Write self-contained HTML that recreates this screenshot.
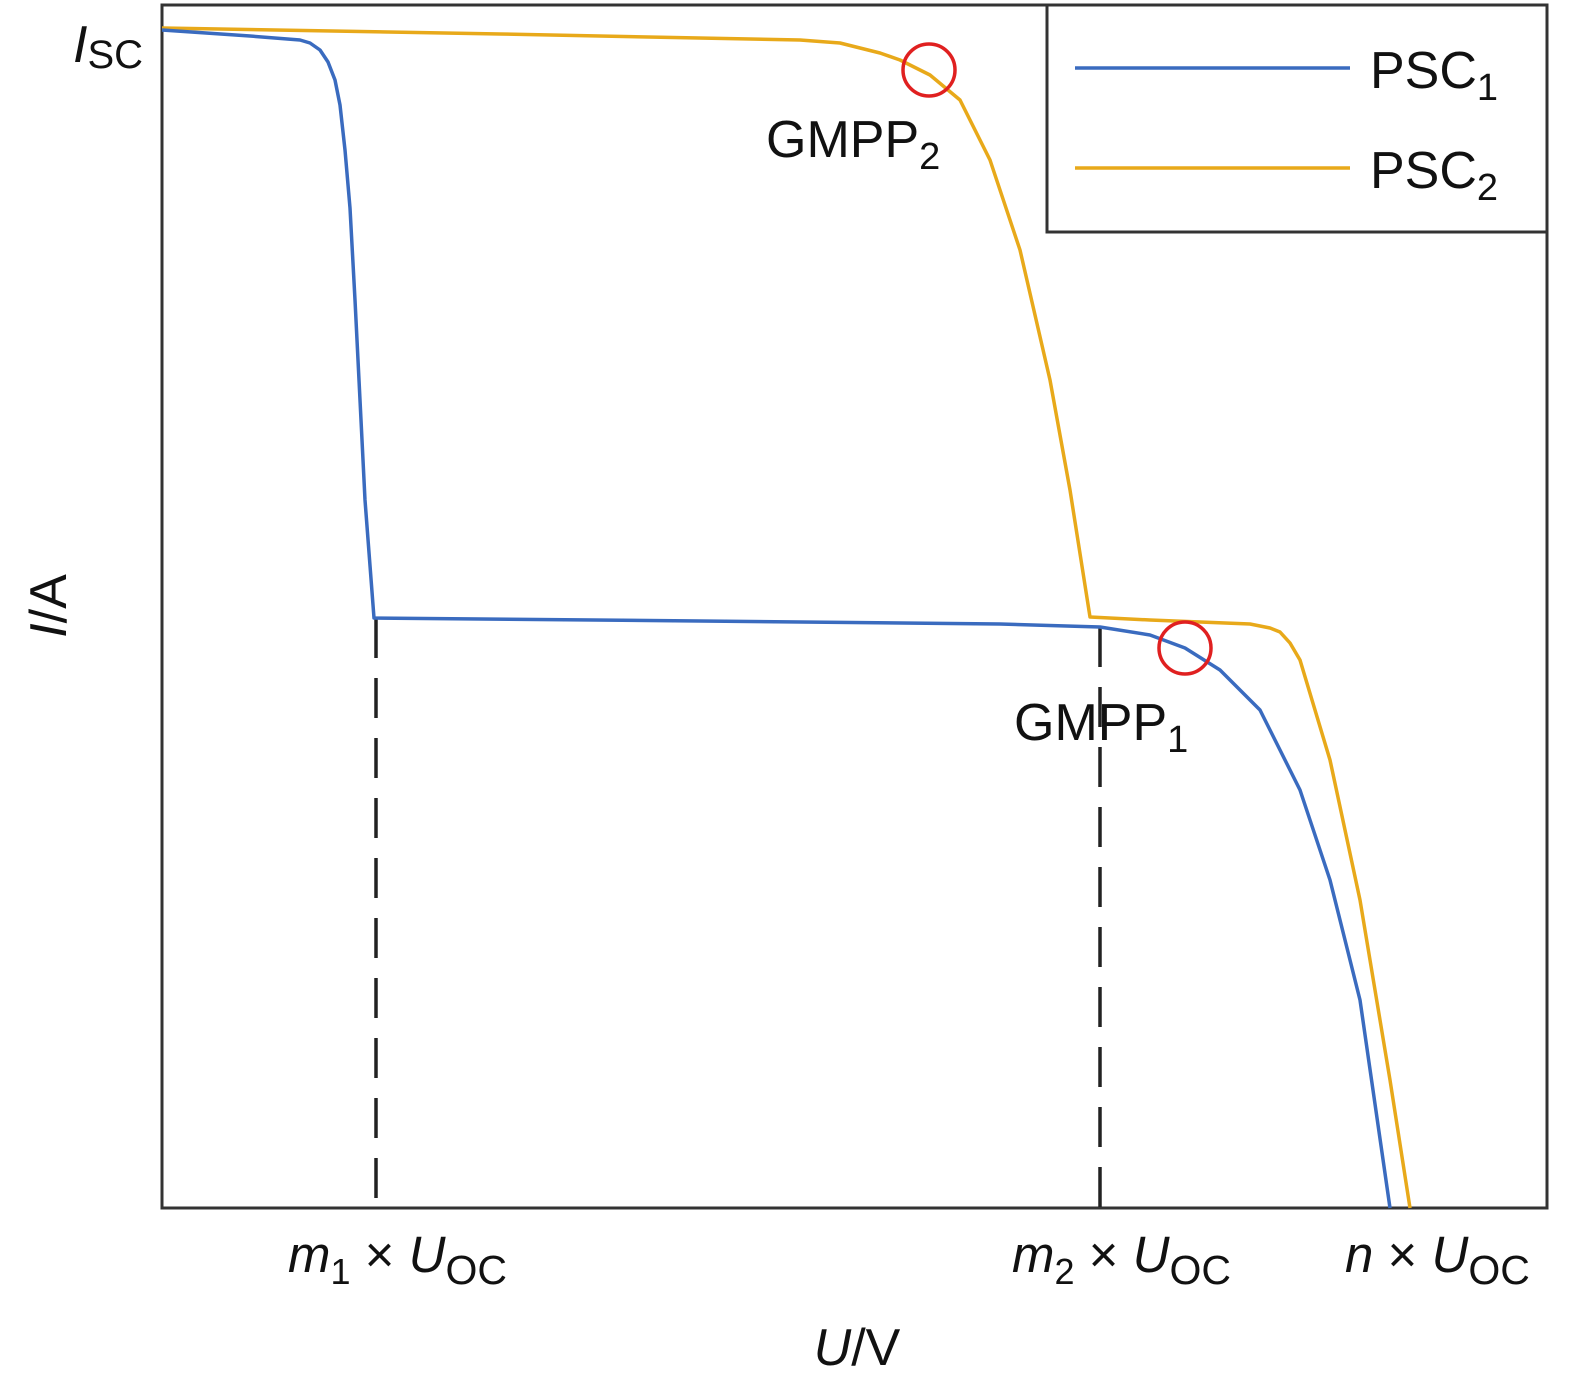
<!DOCTYPE html>
<html><head><meta charset="utf-8"><style>
html,body{margin:0;padding:0;background:#fff;}
svg{display:block;font-family:"Liberation Sans",sans-serif;}
</style></head><body>
<svg id="chart" width="1575" height="1388" viewBox="0 0 1575 1388">
<rect x="162" y="5" width="1385" height="1203" fill="none" stroke="#333" stroke-width="3"/>
<g id="series"></g>
<g id="marks"></g>
<text x="73" y="62" font-size="52" font-style="italic" fill="#111">I<tspan font-style="normal" font-size="40" dy="6">SC</tspan></text>
<text x="766" y="157" font-size="52" fill="#111">GMPP<tspan font-size="38" dy="12">2</tspan></text>
<text x="1014" y="740" font-size="52" fill="#111">GMPP<tspan font-size="38" dy="12">1</tspan></text>
<text x="288" y="1272" font-size="51" fill="#111"><tspan font-style="italic">m</tspan><tspan font-size="36" dy="12">1</tspan><tspan dy="-12"> × </tspan><tspan font-style="italic">U</tspan><tspan font-size="41" dy="12">OC</tspan></text>
<text x="1012" y="1272" font-size="51" fill="#111"><tspan font-style="italic">m</tspan><tspan font-size="36" dy="12">2</tspan><tspan dy="-12"> × </tspan><tspan font-style="italic">U</tspan><tspan font-size="41" dy="12">OC</tspan></text>
<text x="1345" y="1272" font-size="51" fill="#111"><tspan font-style="italic">n</tspan> × <tspan font-style="italic">U</tspan><tspan font-size="41" dy="12">OC</tspan></text>
<text x="857" y="1365" font-size="52" fill="#111" text-anchor="middle"><tspan font-style="italic">U</tspan>/V</text>
<text x="0" y="0" font-size="52" fill="#111" text-anchor="middle" transform="translate(66,606) rotate(-90)"><tspan font-style="italic">I</tspan>/A</text>
<g>
<rect x="1047" y="5" width="500" height="227" fill="#fff" stroke="#333" stroke-width="3"/>
<line x1="1075" y1="68" x2="1350" y2="68" stroke="#3a6bbf" stroke-width="3.5"/>
<text x="1370" y="88" font-size="52" fill="#111">PSC<tspan font-size="38" dy="12">1</tspan></text>
<line x1="1075" y1="168" x2="1350" y2="168" stroke="#e8a91a" stroke-width="3.5"/>
<text x="1370" y="188" font-size="52" fill="#111">PSC<tspan font-size="38" dy="12">2</tspan></text>
</g>
</svg>
<script>
const psc1U = [0,88,138,148,158,166,173,178,183,188,193,203,212,538,838,938,988,1023,1058,1098,1138,1168,1198,1228];
const psc1I = [1178,1172,1168,1165,1158,1146,1128,1103,1058,1000,908,708,590,587,584,581,573,560,538,498,418,328,208,0];
const psc2U = [0,338,638,678,698,718,738,768,798,828,858,888,908,928,988,1088,1108,1118,1128,1138,1168,1198,1228,1248];
const psc2I = [1180,1174,1168,1165,1160,1155,1148,1133,1108,1048,958,828,718,591,588,584,580,576,565,548,448,308,128,0];
const gmppU = [767,1023];
const gmppI = [1138,560];
const dashU = [214,938];
const dashI = [590,581];
const xs = u => 162 + u;
const ys = i => 1208 - i;
const NS = "http://www.w3.org/2000/svg";
const series = document.getElementById('series');
const marks = document.getElementById('marks');
function linePath(U, I){
  return U.map((u,k)=>(k?'L':'M')+xs(u)+','+ys(I[k])).join(' ');
}
for (let k=0;k<dashU.length;k++){
  const l=document.createElementNS(NS,'line');
  l.setAttribute('x1',xs(dashU[k])); l.setAttribute('x2',xs(dashU[k]));
  l.setAttribute('y1',ys(dashI[k])); l.setAttribute('y2',1208);
  l.setAttribute('stroke','#222'); l.setAttribute('stroke-width','3.5'); l.setAttribute('stroke-dasharray','40,20');
  
  
  series.appendChild(l);
}
const a=document.createElementNS(NS,'path');
a.setAttribute('d',linePath(psc2U,psc2I)); a.setAttribute('fill','none'); a.setAttribute('stroke','#e8a91a'); a.setAttribute('stroke-width','3.5'); a.setAttribute('stroke-linejoin','round');


series.appendChild(a);
const b=document.createElementNS(NS,'path');
b.setAttribute('d',linePath(psc1U,psc1I)); b.setAttribute('fill','none'); b.setAttribute('stroke','#3a6bbf'); b.setAttribute('stroke-width','3.5'); b.setAttribute('stroke-linejoin','round');


series.appendChild(b);
for (let k=0;k<gmppU.length;k++){
  const c=document.createElementNS(NS,'circle');
  c.setAttribute('cx',xs(gmppU[k])); c.setAttribute('cy',ys(gmppI[k])); c.setAttribute('r','26');
  c.setAttribute('fill','none'); c.setAttribute('stroke','#e02020'); c.setAttribute('stroke-width','3.5');
  
  
  marks.appendChild(c);
}
</script>
</body></html>
